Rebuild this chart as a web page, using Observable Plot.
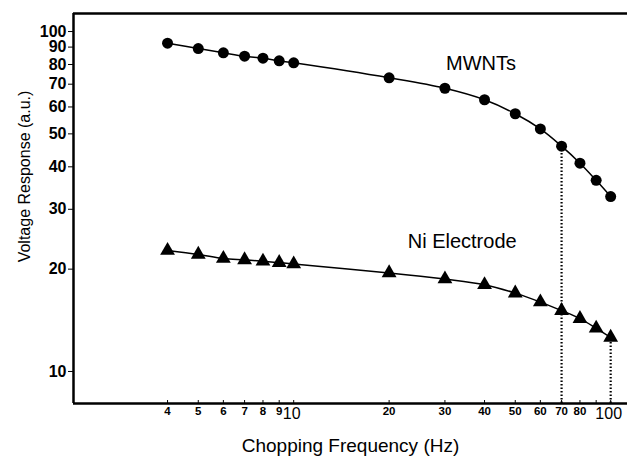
<!DOCTYPE html>
<html>
<head>
<meta charset="utf-8">
<script src="https://cdn.jsdelivr.net/npm/d3@7"></script>
<script src="https://cdn.jsdelivr.net/npm/@observablehq/plot@0.6"></script>
<style>
  html, body { margin: 0; padding: 0; background: #fff; }
  svg { display: block; }
</style>
</head>
<body>
<div id="chart"></div>
<script>
// ---- data ----
const freq = [4, 5, 6, 7, 8, 9, 10, 20, 30, 40, 50, 60, 70, 80, 90, 100];
const mwnt = [92.4, 89.1, 86.6, 84.6, 83.5, 82.0, 80.9, 73.1, 68.1, 63.0, 57.3, 51.7, 46.0, 41.0, 36.5, 32.7];
const ni   = [22.7, 22.1, 21.5, 21.3, 21.1, 20.9, 20.7, 19.5, 18.7, 18.0, 17.0, 16.0, 15.1, 14.3, 13.4, 12.6];

const xSmallTicks = [4, 5, 6, 7, 8, 9, 20, 30, 40, 50, 60, 70, 80];
const xLargeTicks = [10, 100];
const xTickMarks = [4, 5, 6, 7, 8, 9, 10, 20, 30, 40, 50, 60, 70, 80, 90, 100];
const yTicks = [10, 20, 30, 40, 50, 60, 70, 80, 90, 100];

const xDomain = [2.02, 113];
const yDomain = [8.05, 113];

const dropFreq = [70, 100];
const dropValue = [46.0, 12.6];

const seriesLabels = ["MWNTs", "Ni Electrode"];
const labelX = [39, 34];
const labelY = [80.5, 24.1];

const xTitle = "Chopping Frequency (Hz)";
const yTitle = "Voltage Response (a.u.)";

// ---- tables built from the arrays ----
const mwntData = freq.map((f, i) => ({f, v: mwnt[i]}));
const niData = freq.map((f, i) => ({f, v: ni[i]}));
const drops = dropFreq.map((f, i) => ({f, v: dropValue[i]}));
const labels = seriesLabels.map((t, i) => ({t, x: labelX[i], y: labelY[i]}));

const font = "'Liberation Sans', Arial, Helvetica, sans-serif";

const chart = Plot.plot({
  width: 627,
  height: 462,
  marginLeft: 73,
  marginRight: 0,
  marginTop: 13,
  marginBottom: 59,
  style: {fontFamily: font, background: "white", color: "black"},
  x: {type: "log", domain: xDomain, axis: null},
  y: {type: "log", domain: yDomain},
  marks: [
    // frame (left, top, bottom)
    Plot.ruleY([yDomain[0], yDomain[1]], {stroke: "black", strokeWidth: 2.5}),
    Plot.ruleX([xDomain[0]], {stroke: "black", strokeWidth: 2.5}),
    // y axis
    Plot.axisY(yTicks, {
      tickSize: 5, tickPadding: 2, tickFormat: d => String(d),
      fontSize: 16, fontWeight: "bold", label: null
    }),
    // x tick marks (small, inward)
    Plot.tickX(xTickMarks, {x: d => d, insetTop: 387, stroke: "black", strokeWidth: 1}),
    // x tick labels
    Plot.text(xSmallTicks, {
      x: d => d, text: d => String(d), frameAnchor: "bottom", dy: 11,
      fontSize: 11.5, fontWeight: "bold"
    }),
    Plot.text(xLargeTicks, {
      x: d => d, text: d => String(d), frameAnchor: "bottom", dy: 15, dx: -2,
      fontSize: 16
    }),
    // axis titles
    Plot.text([xTitle], {
      text: d => d, frameAnchor: "bottom", dy: 48, fontSize: 19
    }),
    Plot.text([yTitle], {
      text: d => d, frameAnchor: "top-left", rotate: -90, dx: -55, dy: 163,
      fontSize: 16, textAnchor: "middle"
    }),
    // dotted drop lines
    Plot.ruleX(drops, {
      x: "f", y1: yDomain[0], y2: "v",
      stroke: "black", strokeWidth: 2.2, strokeDasharray: "1.5,2"
    }),
    // series
    Plot.line(mwntData, {x: "f", y: "v", curve: "catmull-rom", stroke: "black", strokeWidth: 1.5}),
    Plot.dot(mwntData, {x: "f", y: "v", r: 5.5, fill: "black", stroke: "none", symbol: "circle"}),
    Plot.line(niData, {x: "f", y: "v", curve: "catmull-rom", stroke: "black", strokeWidth: 1.5}),
    Plot.dot(niData, {x: "f", y: "v", r: 5.5, fill: "black", stroke: "none", symbol: "triangle"}),
    // series labels
    Plot.text(labels, {x: "x", y: "y", text: "t", fontSize: 20})
  ]
});

document.getElementById("chart").appendChild(chart);
</script>
</body>
</html>
